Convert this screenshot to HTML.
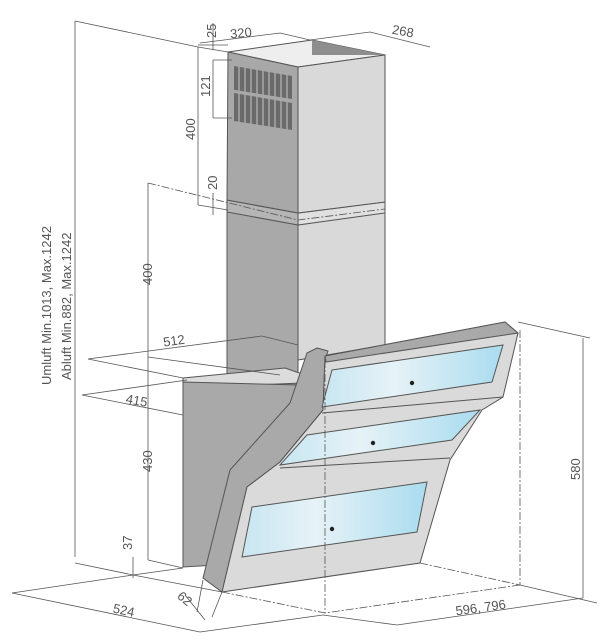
<!DOCTYPE html>
<html><head><meta charset="utf-8"><style>
html,body{margin:0;padding:0;background:#fff;}
svg{display:block;}
text{font-family:"Liberation Sans",sans-serif;fill:#555;font-size:13px;}
</style></head><body>
<svg width="616" height="640" viewBox="0 0 616 640" xmlns="http://www.w3.org/2000/svg">
<defs>
<linearGradient id="gl" x1="0" y1="0" x2="1" y2="0">
<stop offset="0" stop-color="#c8e6f2"/><stop offset="0.4" stop-color="#e6f2f6"/><stop offset="1" stop-color="#a9dcef"/>
</linearGradient>
</defs>
<g stroke="#555" stroke-width="1" fill="none">
<!-- chimney lower -->
<polygon points="227,200 298,213 298,387 227,378" fill="#a9a9a9"/>
<polygon points="298,213 385,202 385,345 298,360" fill="#d9d9d9"/>
<!-- band -->
<polygon points="227,200 298,213 298,225 227,212" fill="#b5b5b5"/>
<polygon points="298,213 385,202 385,213 298,225" fill="#e0e0e0"/>
<!-- chimney upper -->
<polygon points="312,40 385,55 298,67 228,52" fill="#eee"/>
<polygon points="312,40 385,55 312,55" fill="#8e8e8e" stroke="none"/>
<polygon points="228,52 298,67 298,213 227,200" fill="#a8a8a8"/>
<polygon points="298,67 385,55 385,202 298,213" fill="#d9d9d9"/>
</g>
<!-- vents -->
<g fill="#555">
<path d="M234 66 l58 10 v23 l-58 -9z" fill="#6a6a6a"/>
<path d="M234 93 l58 10 v27 l-58 -9z" fill="#6a6a6a"/>
</g>
<g stroke="#a8a8a8" stroke-width="1.5">
<line x1="239" y1="66" x2="239" y2="122"/><line x1="245" y1="67" x2="245" y2="123"/><line x1="251" y1="68" x2="251" y2="124"/><line x1="257" y1="69" x2="257" y2="125"/><line x1="263" y1="70" x2="263" y2="126"/><line x1="269" y1="71" x2="269" y2="127"/><line x1="275" y1="72" x2="275" y2="128"/><line x1="281" y1="73" x2="281" y2="129"/><line x1="287" y1="74" x2="287" y2="130"/>
</g>
<line x1="234" y1="91" x2="292" y2="101" stroke="#a8a8a8" stroke-width="2.5"/>
<!-- dash-dot band lines -->
<g stroke="#555" stroke-width="0.8" stroke-dasharray="8 2 2 2" fill="none">
<polyline points="148,183 298,220 385,209"/>
</g>
<!-- base box -->
<g stroke="#555" stroke-width="1">
<polygon points="183,378 285,368 325,382 183,388" fill="#dcdcdc"/>
<polygon points="183,382 300,385 300,560 183,567" fill="#a9a9a9"/>
</g>
<!-- hood left band -->
<g stroke="#555" stroke-width="1">
<polygon points="317,348 328,351 325,360 323,410 280,462 247,487 222,592 203,578 230,470 290,403 307,353" fill="#a9a9a9"/>
<!-- hood front -->
<polygon points="325,356 505,322 518,333 503,397 482,410 450,460 420,563 222,592 247,487 280,462 323,410" fill="#dadada"/>
<polygon points="325,356 505,322 518,333 326,362" fill="#a9a9a9"/>
<polyline points="322,413 503,397" fill="none"/>
<polyline points="280,468 450,458" fill="none"/>
<!-- glass -->
<polygon points="332,370 503,345 492,382 322,407" fill="url(#gl)"/>
<polygon points="307,435 480,410 452,440 280,465" fill="url(#gl)"/>
<polygon points="252,507 427,482 417,532 242,557" fill="url(#gl)"/>
</g>
<g fill="#222"><circle cx="412" cy="383" r="2.2"/><circle cx="373" cy="443" r="2.2"/><circle cx="332" cy="529" r="2.2"/></g>
<!-- dimension lines -->
<g stroke="#555" stroke-width="0.8" fill="none">
<line x1="75" y1="21" x2="75" y2="557"/>
<polyline points="75,21 198,47 228,52"/>
<line x1="198" y1="47" x2="198" y2="205"/>
<line x1="198" y1="205" x2="228" y2="210"/>
<line x1="213" y1="23" x2="213" y2="50"/>
<line x1="198" y1="45" x2="228" y2="45"/>
<line x1="213" y1="60" x2="213" y2="118"/>
<line x1="213" y1="60" x2="232" y2="60"/><line x1="213" y1="118" x2="232" y2="118"/>
<line x1="213" y1="193" x2="213" y2="215"/>
<polyline points="200,43 280,33 310,40 370,32 430,47"/>
<line x1="148" y1="183" x2="148" y2="560"/>
<line x1="148" y1="560" x2="183" y2="568"/>
<polyline points="88,359 262,336 298,345"/>
<line x1="88" y1="359" x2="183" y2="378"/>
<line x1="148" y1="357" x2="280" y2="375"/>
<polyline points="82,395 187,380"/>
<line x1="82" y1="395" x2="183" y2="415"/>
<line x1="75" y1="563" x2="133" y2="575"/>
<line x1="133" y1="557" x2="133" y2="578"/>
<polyline points="12,593 133,575 183,568"/>
<line x1="12" y1="593" x2="200" y2="632"/>
<line x1="200" y1="632" x2="323" y2="615"/>
<line x1="397" y1="625" x2="583" y2="598"/>
<line x1="323" y1="615" x2="397" y2="625"/>
<line x1="133" y1="575" x2="222" y2="592"/>
<line x1="185" y1="595" x2="205" y2="620"/>
<line x1="203" y1="580" x2="197" y2="612"/>
<line x1="222" y1="592" x2="212" y2="617"/>
<line x1="518" y1="322" x2="590" y2="338"/>
<line x1="583" y1="338" x2="583" y2="598"/>
<line x1="520" y1="585" x2="597" y2="603"/>
</g>
<g stroke="#555" stroke-width="0.8" fill="none" stroke-dasharray="8 2 2 2">
<line x1="520" y1="330" x2="520" y2="585"/>
<line x1="325" y1="360" x2="325" y2="613"/>
<polyline points="420,563 520,585"/>
<polyline points="222,592 325,613 520,585"/>
</g>
<!-- labels -->
<text x="0" y="0" transform="translate(216,38) rotate(-90)" font-size="12">25</text>
<text x="230" y="37" transform="rotate(-6 245 32)">320</text>
<text x="392" y="36" transform="rotate(10 405 32)">268</text>
<text x="0" y="0" transform="translate(210,97) rotate(-90)" font-size="12">121</text>
<text x="0" y="0" transform="translate(195,140) rotate(-90)">400</text>
<text x="0" y="0" transform="translate(217,190) rotate(-90)">20</text>
<text x="0" y="0" transform="translate(152,285) rotate(-90)">400</text>
<text x="0" y="0" transform="translate(51,385) rotate(-90)" font-size="12.5">Umluft Min.1013, Max.1242</text>
<text x="0" y="0" transform="translate(71,380) rotate(-90)" font-size="12.5">Abluft Min.882, Max.1242</text>
<text x="163" y="345" transform="rotate(-8 175 340)">512</text>
<text x="126" y="405" transform="rotate(10 137 400)">415</text>
<text x="0" y="0" transform="translate(152,472) rotate(-90)">430</text>
<text x="0" y="0" transform="translate(132,550) rotate(-90)" font-size="12">37</text>
<text x="113" y="615" transform="rotate(12 125 610)">524</text>
<text x="178" y="603" transform="rotate(40 185 598)" font-size="12">62</text>
<text x="455" y="612" transform="rotate(-8 480 605)">596, 796</text>
<text x="0" y="0" transform="translate(183,478) rotate(-90)" opacity="0"> </text>
<text x="0" y="0" transform="translate(580,480) rotate(-90)">580</text>
</svg>
</body></html>
